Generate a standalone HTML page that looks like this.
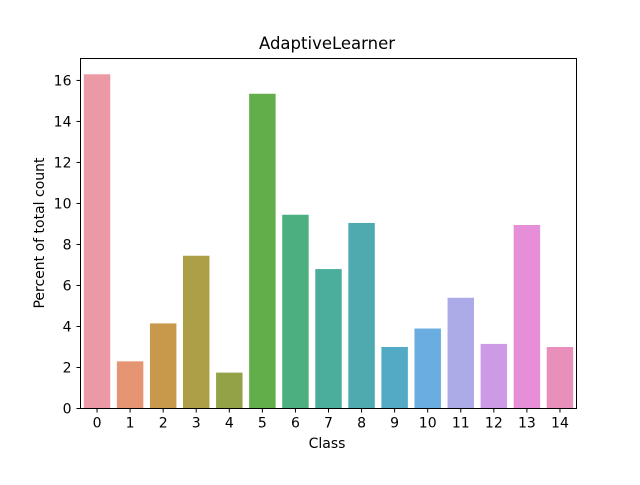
<!DOCTYPE html>
<html><head><meta charset="utf-8"><style>
body{margin:0;background:#fff;}
svg text{font-family:"DejaVu Sans","Liberation Sans",sans-serif;fill:#000;}
</style></head><body>
<svg id="chart" width="640" height="480" xmlns="http://www.w3.org/2000/svg">
<rect width="640" height="480" fill="#fff"/>
<text x="327" y="49" font-size="16.5" text-anchor="middle">AdaptiveLearner</text>
<text x="327" y="448" font-size="14" text-anchor="middle">Class</text>
<text transform="translate(44,233) rotate(-90)" font-size="14" text-anchor="middle">Percent of total count</text>
<g id="bars"></g><g id="ticks"></g>
<rect x="80.5" y="58.5" width="496" height="350" fill="none" stroke="#000" stroke-width="1"/>
</svg>
<script>
const categories=["0","1","2","3","4","5","6","7","8","9","10","11","12","13","14"];
const values=[16.3,2.3,4.15,7.45,1.75,15.35,9.45,6.8,9.05,3.0,3.9,5.4,3.15,8.95,3.0];
const colors=["#eb99a4","#e59572","#c8994b","#ac9f47","#93a246","#62ae4a","#4caf7f","#4bad9b","#4eaaae","#52aac4","#6aade0","#adaae8","#cd9ae6","#e68ed8","#e88fbb"];
const yTicks=[0,2,4,6,8,10,12,14,16];
const L=80.5,R=576.5,T=58.5,B=408.5,yMax=17.07;
const ns="http://www.w3.org/2000/svg";
const x=i=>L+(i+0.5)*(R-L)/categories.length;
const y=v=>B-v*(B-T)/yMax;
const bw=0.8*(R-L)/categories.length;
const bars=document.getElementById('bars'),ticks=document.getElementById('ticks');
values.forEach((v,i)=>{
 const r=document.createElementNS(ns,'rect');
 r.setAttribute('x',x(i)-bw/2);r.setAttribute('y',y(v));r.setAttribute('width',bw);r.setAttribute('height',B-y(v));r.setAttribute('fill',colors[i]);
 
 
 bars.appendChild(r);
 const l=document.createElementNS(ns,'line');
 l.setAttribute('x1',x(i));l.setAttribute('x2',x(i));l.setAttribute('y1',B);l.setAttribute('y2',B+4);l.setAttribute('stroke','#000');
 
 
 ticks.appendChild(l);
 const t=document.createElementNS(ns,'text');
 t.setAttribute('x',x(i));t.setAttribute('y',B+19);t.setAttribute('font-size','14');t.setAttribute('text-anchor','middle');t.textContent=categories[i];
 
 
 ticks.appendChild(t);
});
yTicks.forEach(v=>{
 const l=document.createElementNS(ns,'line');
 l.setAttribute('x1',L-4);l.setAttribute('x2',L);l.setAttribute('y1',y(v));l.setAttribute('y2',y(v));l.setAttribute('stroke','#000');
 
 
 ticks.appendChild(l);
 const t=document.createElementNS(ns,'text');
 t.setAttribute('x',L-9);t.setAttribute('y',y(v)+5);t.setAttribute('font-size','14');t.setAttribute('text-anchor','end');t.textContent=v;
 
 
 ticks.appendChild(t);
});
</script>
</body></html>
